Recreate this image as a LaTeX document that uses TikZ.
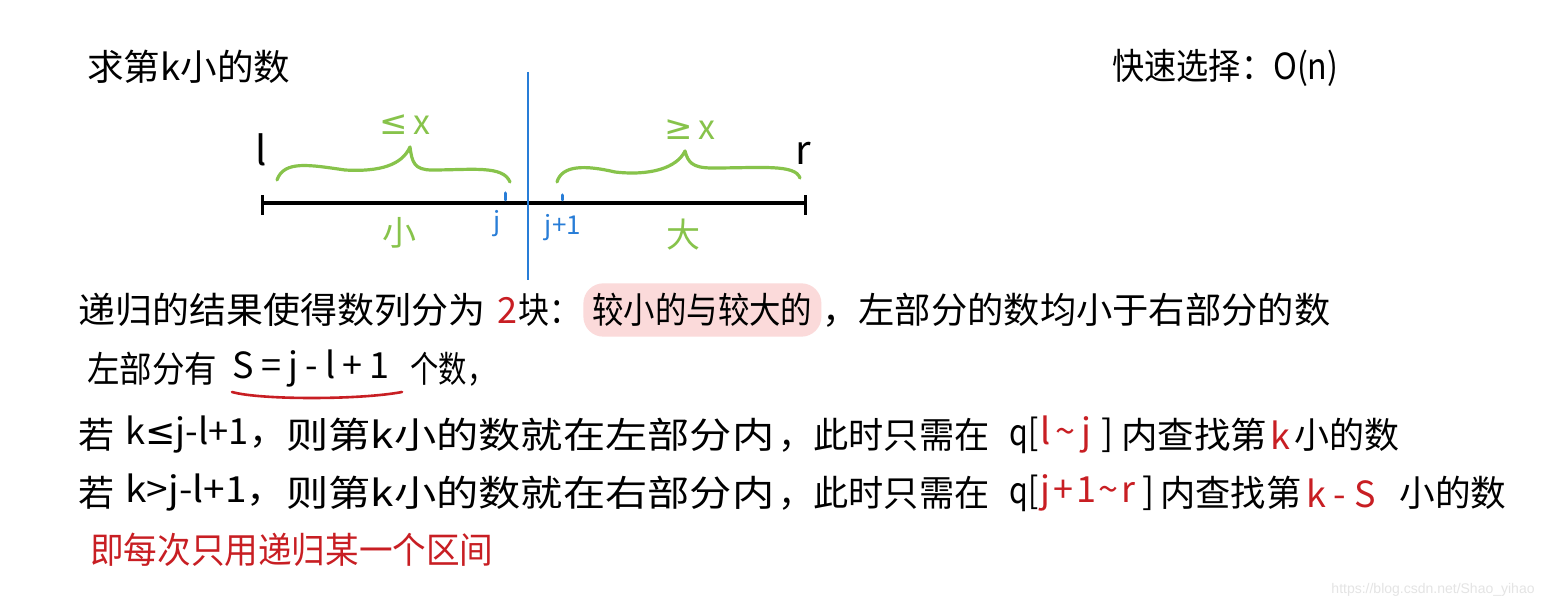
\documentclass[tikz,border=0pt]{standalone}
\usepackage{fontspec}
\setmainfont{Noto Sans CJK SC}
\newfontfamily\cjk{Noto Sans CJK SC}
\newfontfamily\djv{DejaVu Sans}
\newfontfamily\wmfont{Liberation Sans}
\definecolor{grn}{RGB}{135,195,75}
\definecolor{blu}{RGB}{40,125,215}
\definecolor{rd}{RGB}{200,30,35}
\definecolor{pnk}{RGB}{251,218,218}
\definecolor{wmgray}{RGB}{228,228,228}
\newcommand\fitw[2]{\resizebox{#1pt}{\height}{#2}}
\newcommand\lsp[2]{{\addfontfeatures{LetterSpace=#1}#2}}
\tikzset{
  txt/.style={inner sep=0pt, anchor=west, font=\cjk\fontsize{18}{18}\selectfont},
  rtxt/.style={txt, text=rd},
  lbl/.style={inner sep=0pt, font=\cjk\fontsize{17}{17}\selectfont},
  glbl/.style={lbl, text=grn},
  blbl/.style={lbl, text=blu, font=\cjk\fontsize{13}{13}\selectfont},
  bracepath/.style={grn, line width=1.6pt, line cap=round, line join=round},
}
\begin{document}
\begin{tikzpicture}[x=0.5pt,y=-0.5pt]
\useasboundingbox (0,0) rectangle (1544,608);
\fill[white] (0,0) rectangle (1544,608);
% titles
\node[txt] (title) at (87,67) {\fitw{101.5}{求第k小的数}};
\node[txt] (qs) at (1112,68) {\fitw{113}{快速选择：O(n)}};
% main segment
\coordinate (L) at (262,203);
\coordinate (R) at (805,203);
\draw[line width=2pt] (L) -- (R);
\draw[line width=1.5pt] ([yshift=-6]L) -- ([yshift=4]L);
\draw[line width=1.5pt] ([yshift=-6]R) -- ([yshift=4]R);
\node[lbl, font=\cjk\fontsize{20}{20}\selectfont] (l) at (261,150) {l};
\node[lbl, font=\cjk\fontsize{20}{20}\selectfont] (r) at (803,153) {r};
% blue divider
\coordinate (vtop) at (528,72);
\coordinate (vbot) at (528,280);
\draw[blu, line width=0.7pt] (vtop) -- (vbot);
% blue ticks
\coordinate (jt) at (505,193);
\coordinate (jb) at (505,200);
\coordinate (j1t) at (562,195);
\coordinate (j1b) at (562,200);
\draw[blu, line width=1.5pt, line cap=round] (jt) -- (jb);
\draw[blu, line width=1.5pt, line cap=round] (j1t) -- (j1b);
\node[blbl] (j) at (497,224) {j};
\node[blbl] (j1) at (563,228) {j+1};
\node[glbl] (small) at (399,233) {小};
\node[glbl] (big) at (683,235) {大};
% braces
\coordinate (lb1) at (277,180);
\coordinate (lbt) at (410,147);
\coordinate (lb2) at (510,182);
\draw[bracepath] (lb1) .. controls (284,160) and (310,165) .. (345,170)
  .. controls (380,172) and (402,165) .. (lbt)
  .. controls (412,162) and (414,170) .. (432,170)
  .. controls (472,170) and (503,165) .. (lb2);
\coordinate (rb1) at (557,182);
\coordinate (rbt) at (685,151);
\coordinate (rb2) at (800,178);
\draw[bracepath] (rb1) .. controls (562,165) and (585,165) .. (615,172)
  .. controls (650,176) and (677,168) .. (rbt)
  .. controls (688,162) and (692,168) .. (712,168)
  .. controls (762,168) and (795,164) .. (rb2);
\node[glbl] (le) at (405,125) {{\djv ≤}\,x};
\node[glbl] (ge) at (690,130) {{\djv ≥}\,x};
% line 1
\node[txt] (a1) at (78,310) {\fitw{203.5}{递归的结果使得数列分为}};
\node[rtxt] (a2) at (497,310) {2};
\node[txt] (a3) at (518,310) {\fitw{31}{块：}};
\node[txt, fill=pnk, rounded corners=10pt, inner xsep=4.5pt, inner ysep=5pt] (a4) at (583,310) {\fitw{110}{较小的与较大的}};
\node[txt] (a5) at (822,310) {\fitw{254}{，左部分的数均小于右部分的数}};
% line 2
\node[txt] (b1) at (87,369) {\fitw{65}{左部分有}};
\node[txt] (b2) at (232,369) {\lsp{20}{S=j-l+1}};
\node[txt] (b3) at (410,369) {\fitw{42.5}{个数，}};
\coordinate (ul1) at (232,392);
\coordinate (ul2) at (402,392);
\draw[rd, line width=1.3pt, line cap=round] (ul1) .. controls (260,400) and (360,400) .. (ul2);
% line 3
\node[txt] (c0) at (78,435) {若};
\node[txt] (c1) at (125,435) {\fitw{80}{k{\djv ≤}j-l+1，}};
\node[txt] (c2) at (286,435) {\fitw{244}{则第k小的数就在左部分内}};
\node[txt] (c3) at (778,435) {\fitw{105.5}{，此时只需在}};
\node[txt] (c4) at (1009,435) {\fitw{14.5}{q[}};
\node[rtxt] (c5) at (1040,435) {\lsp{15}{l\textasciitilde j}};
\node[txt] (c6) at (1101,435) {]};
\node[txt] (c7) at (1121,435) {\fitw{73}{内查找第}};
\node[rtxt] (c8) at (1270,435) {k};
\node[txt] (c9) at (1294,435) {\fitw{52.5}{小的数}};
% line 4
\node[txt] (d0) at (78,493) {若};
\node[txt] (d1) at (125,493) {\fitw{80}{k>j-l+1，}};
\node[txt] (d2) at (286,493) {\fitw{244}{则第k小的数就在右部分内}};
\node[txt] (d3) at (778,493) {\fitw{105.5}{，此时只需在}};
\node[txt] (d4) at (1009,493) {\fitw{14.5}{q[}};
\node[rtxt] (d5) at (1040,493) {\lsp{8}{j+1\textasciitilde r}};
\node[txt] (d6) at (1142,493) {]};
\node[txt] (d7) at (1160,493) {\fitw{70.5}{内查找第}};
\node[rtxt] (d8) at (1306,493) {\lsp{25}{k-S}};
\node[txt] (d9) at (1399,493) {\fitw{53.5}{小的数}};
% line 5
\node[rtxt] (e1) at (90,550) {\fitw{201.5}{即每次只用递归某一个区间}};
% watermark
\node[inner sep=0pt, anchor=east, text=wmgray, font=\wmfont\fontsize{7}{7}\selectfont] (wm) at (1535,590) {https://blog.csdn.net/Shao\_yihao};
\end{tikzpicture}
\end{document}
